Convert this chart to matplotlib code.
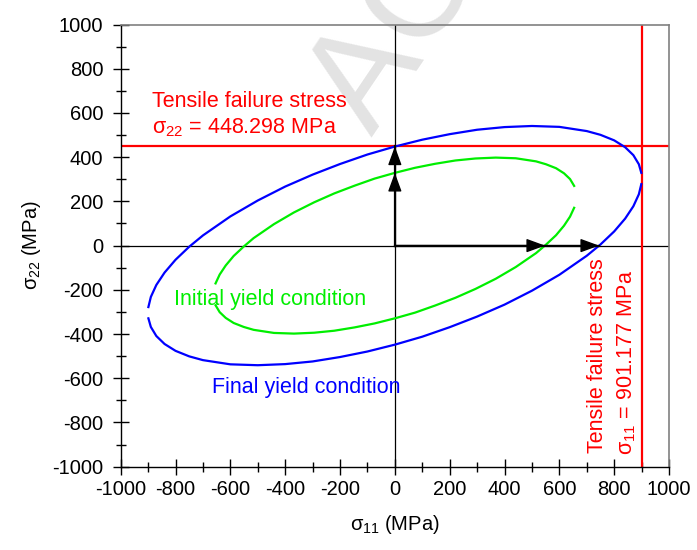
import matplotlib
matplotlib.use("Agg")
import matplotlib.pyplot as plt
from matplotlib.ticker import MultipleLocator

plt.rcParams['font.family'] = ['Liberation Sans', 'DejaVu Sans']
plt.rcParams['mathtext.fontset'] = 'custom'
plt.rcParams['mathtext.rm'] = 'Liberation Sans'
plt.rcParams['mathtext.it'] = 'Liberation Sans'
plt.rcParams['mathtext.sf'] = 'Liberation Sans'
plt.rcParams['mathtext.bf'] = 'Liberation Sans:bold'

# ---------------- data (MPa) ----------------
final_s11 = [-899, -890, -870, -840, -800, -750, -700, -600, -500, -400, -300, -200, -100, 0,
             100, 200, 300, 400, 500, 600, 700, 750, 800, 840, 870, 890, 899]
final_s22_upper = [-278, -232, -178, -122, -64, -5, 46, 132, 204, 267, 321, 369, 412, 448,
                   479, 504, 524, 536, 541, 537, 518, 501, 476, 445, 409, 368, 329]
final_s22_lower = [-329, -368, -409, -445, -476, -501, -518, -537, -541, -536, -524, -504, -479, -448,
                   -412, -369, -321, -267, -204, -132, -46, 5, 64, 122, 178, 232, 278]

initial_s11 = [-654, -639, -617, -588, -551, -515, -441, -368, -294, -221, -147, -74, 0,
               74, 147, 221, 294, 368, 441, 515, 551, 588, 617, 639, 654]
initial_s22_upper = [-171, -131, -90, -47, -4, 34, 97, 150, 196, 236, 271, 303, 329,
                     352, 370, 385, 394, 398, 395, 381, 368, 350, 327, 301, 270]
initial_s22_lower = [-270, -301, -327, -350, -368, -381, -395, -398, -394, -385, -370, -352, -329,
                     -303, -271, -236, -196, -150, -97, -34, 4, 47, 90, 131, 171]

failure_s11 = 901.177
failure_s22 = 448.298
arrow_tips_s11 = [548, 745]
arrow_tips_s22 = [329, 448.298]

ticks = list(range(-1000, 1001, 200))

# ---------------- figure ----------------
W, H = 697, 550
fig = plt.figure(figsize=(W / 100, H / 100), dpi=100)
L, R, T, B = 120.7, 669.0, 24.5, 466.7
ax = fig.add_axes([L / W, (H - B) / H, (R - L) / W, (B - T) / H])
ax.set_facecolor('white')

# watermark
ax.text(372 / W, 1 - 137 / H, 'ACCEPTED MANUSCRIPT', transform=fig.transFigure,
        rotation=56, rotation_mode='anchor', ha='left', va='baseline',
        fontsize=102, color='#e3e3e3', zorder=0.5, clip_on=False)

ax.set_xlim(-1000, 1000)
ax.set_ylim(-1000, 1000)
ax.set_xticks(ticks)
ax.set_yticks(ticks)
ax.set_xticklabels([str(t) for t in ticks])
ax.set_yticklabels([str(t) for t in ticks])
ax.xaxis.set_minor_locator(MultipleLocator(100))
ax.yaxis.set_minor_locator(MultipleLocator(100))
ax.tick_params(which='major', direction='inout', length=12, width=1, labelsize=14.5, colors='black')
ax.tick_params(which='minor', direction='inout', length=7, width=1)
ax.tick_params(axis='x', which='major', pad=3.7)
ax.tick_params(axis='y', which='major', pad=6.5)
ax.tick_params(top=False, right=False, which='both')

for s in ['left', 'bottom']:
    ax.spines[s].set_color('black')
    ax.spines[s].set_linewidth(1)
for s in ['top', 'right']:
    ax.spines[s].set_color('#808080')
    ax.spines[s].set_linewidth(1.2)

# zero axes
ax.axhline(0, color='black', lw=0.9, zorder=1)
ax.axvline(0, color='black', lw=0.9, zorder=1)

# failure lines
ax.axhline(failure_s22, color='#ff0000', lw=1.6, zorder=2)
ax.axvline(failure_s11, color='#ff0000', lw=1.6, zorder=2)

# yield curves
ax.plot(final_s11, final_s22_upper, color='#0000ff', lw=1.6, zorder=3)
ax.plot(final_s11, final_s22_lower, color='#0000ff', lw=1.6, zorder=3)
ax.plot(initial_s11, initial_s22_upper, color='#00ee00', lw=1.6, zorder=3)
ax.plot(initial_s11, initial_s22_lower, color='#00ee00', lw=1.6, zorder=3)

# arrows
ax.plot([0, 0], [0, max(arrow_tips_s22)], color='black', lw=1.6, zorder=4)
ax.plot([0, max(arrow_tips_s11)], [0, 0], color='black', lw=1.6, zorder=4)
aprops = dict(arrowstyle='-|>,head_length=11.5,head_width=4.2', mutation_scale=1,
              color='black', lw=1.0, shrinkA=0, shrinkB=0)
for t in arrow_tips_s22:
    ax.annotate('', xy=(0, t), xytext=(0, 0), arrowprops=aprops, zorder=5)
for t in arrow_tips_s11:
    ax.annotate('', xy=(t, 0), xytext=(0, 0), arrowprops=aprops, zorder=5)

# annotations
fs = 15.5
ax.text(-885, 628, 'Tensile failure stress', color='#ff0000', fontsize=fs,
        ha='left', va='baseline')
ax.text(-885, 508, r'$\sigma_{22}$ = 448.298 MPa', color='#ff0000', fontsize=fs,
        ha='left', va='baseline')
ax.text(759, -937, 'Tensile failure stress', color='#ff0000', fontsize=fs,
        rotation=90, rotation_mode='anchor', ha='left', va='baseline')
ax.text(865, -948, r'$\sigma_{11}$ = 901.177 MPa', color='#ff0000', fontsize=fs,
        rotation=90, rotation_mode='anchor', ha='left', va='baseline')
ax.text(-804, -269, 'Initial yield condition', color='#00ee00', fontsize=fs,
        ha='left', va='baseline')
ax.text(-668, -665, 'Final yield condition', color='#0000ff', fontsize=fs,
        ha='left', va='baseline')

ax.set_xlabel(r'$\sigma_{11}$ (MPa)', fontsize=14.5)
ax.set_ylabel(r'$\sigma_{22}$ (MPa)', fontsize=14.5)
ax.xaxis.set_label_coords(0.5, -0.1038)
ax.yaxis.set_label_coords(-0.1417, 0.5)

fig.savefig('out.png', dpi=100)
